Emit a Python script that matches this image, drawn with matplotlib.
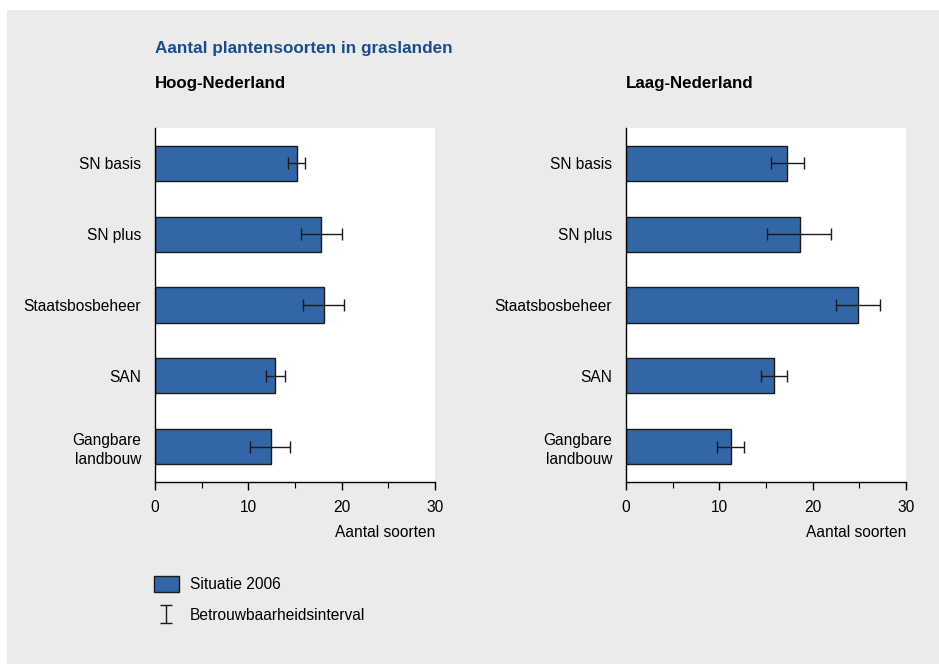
import numpy as np
import matplotlib
matplotlib.use("Agg")
import matplotlib.pyplot as plt
from matplotlib.patches import Patch, Rectangle
from matplotlib.legend_handler import HandlerErrorbar

plt.rcParams["font.family"] = ["Liberation Sans", "DejaVu Sans"]

categories = ["SN basis", "SN plus", "Staatsbosbeheer", "SAN", "Gangbare\nlandbouw"]
panel_titles = ["Hoog-Nederland", "Laag-Nederland"]

# aantal soorten, met onder- en bovengrens betrouwbaarheidsinterval
hoog_values = [15.25, 17.75, 18.1, 12.9, 12.4]
hoog_low = [14.3, 15.6, 15.9, 11.85, 10.2]
hoog_high = [16.1, 20.0, 20.25, 13.95, 14.5]

laag_values = [17.3, 18.6, 24.85, 15.85, 11.25]
laag_low = [15.55, 15.1, 22.5, 14.5, 9.8]
laag_high = [19.05, 22.0, 27.2, 17.3, 12.65]

xticks = [0, 10, 20, 30]
minor_xticks = [5, 15, 25]

bar_color = "#3366a6"
title_color = "#1b4d8c"
bg_color = "#ebebeb"
fs = 11.2

fig = plt.figure(figsize=(9.39, 6.65), dpi=100, facecolor="white")
fig.patches.append(Rectangle((7 / 939, 1 / 665), 1 - 7 / 939, 1 - 11 / 665,
                             transform=fig.transFigure, facecolor=bg_color,
                             edgecolor="none", zorder=-10))

axes_x = [155 / 939, 626 / 939]
data = [(hoog_values, hoog_low, hoog_high), (laag_values, laag_low, laag_high)]
y = np.arange(len(categories))

for ii in range(2):
    ax = fig.add_axes([axes_x[ii], 1 - 482 / 665, 280 / 939, 354 / 665])
    vals, lo, hi = data[ii]
    vals = np.array(vals)
    xerr = np.vstack([vals - np.array(lo), np.array(hi) - vals])
    ax.barh(y, vals, height=0.5, color=bar_color, edgecolor="#1a1a1a", linewidth=1.0, zorder=2)
    ax.errorbar(vals, y, xerr=xerr, fmt="none", ecolor="#1a1a1a", elinewidth=1.0,
                capsize=4, capthick=1.0, zorder=3)
    ax.set_ylim(len(categories) - 0.5, -0.5)
    ax.set_xlim(0, 30)
    ax.set_yticks(y)
    ax.set_yticklabels(categories, fontsize=fs)
    for lbl in ax.get_yticklabels():
        lbl.set_linespacing(1.35)
    ax.tick_params(axis="y", length=0, pad=10)
    ax.set_xticks(xticks)
    ax.set_xticks(minor_xticks, minor=True)
    ax.tick_params(axis="x", which="major", length=6, width=1, labelsize=fs, pad=7)
    ax.tick_params(axis="x", which="minor", length=4, width=0.8)
    ax.spines["top"].set_visible(False)
    ax.spines["right"].set_visible(False)
    ax.spines["left"].set_linewidth(1)
    ax.spines["bottom"].set_linewidth(1)
    ax.set_facecolor("white")
    ax.set_xlabel("Aantal soorten", fontsize=fs, loc="right", labelpad=7.5)
    fig.text(axes_x[ii], 1 - 88.3 / 665, panel_titles[ii], fontsize=12.2,
             fontweight="bold", va="baseline", ha="left")
    if ii == 0:
        leg_err = ax.errorbar([np.nan], [np.nan], yerr=[np.nan], fmt="none", ecolor="#1a1a1a",
                              elinewidth=1.0, capsize=4.5, capthick=1.0)

fig.text(155 / 939, 1 - 53.3 / 665, "Aantal plantensoorten in graslanden", fontsize=12.3,
         fontweight="bold", color=title_color, va="baseline", ha="left")

handles = [Patch(facecolor=bar_color, edgecolor="#1a1a1a", linewidth=1.0), leg_err]
fig.legend(handles, ["Situatie 2006", "Betrouwbaarheidsinterval"],
           loc="upper left", bbox_to_anchor=(154 / 939, 1 - 576 / 665),
           frameon=False, fontsize=fs, handlelength=1.6, handleheight=1.2,
           handletextpad=0.72, labelspacing=0.95, borderpad=0, borderaxespad=0,
           handler_map={type(leg_err): HandlerErrorbar(yerr_size=0.58)})

plt.savefig("out.png", dpi=100, facecolor="white")
plt.close()
